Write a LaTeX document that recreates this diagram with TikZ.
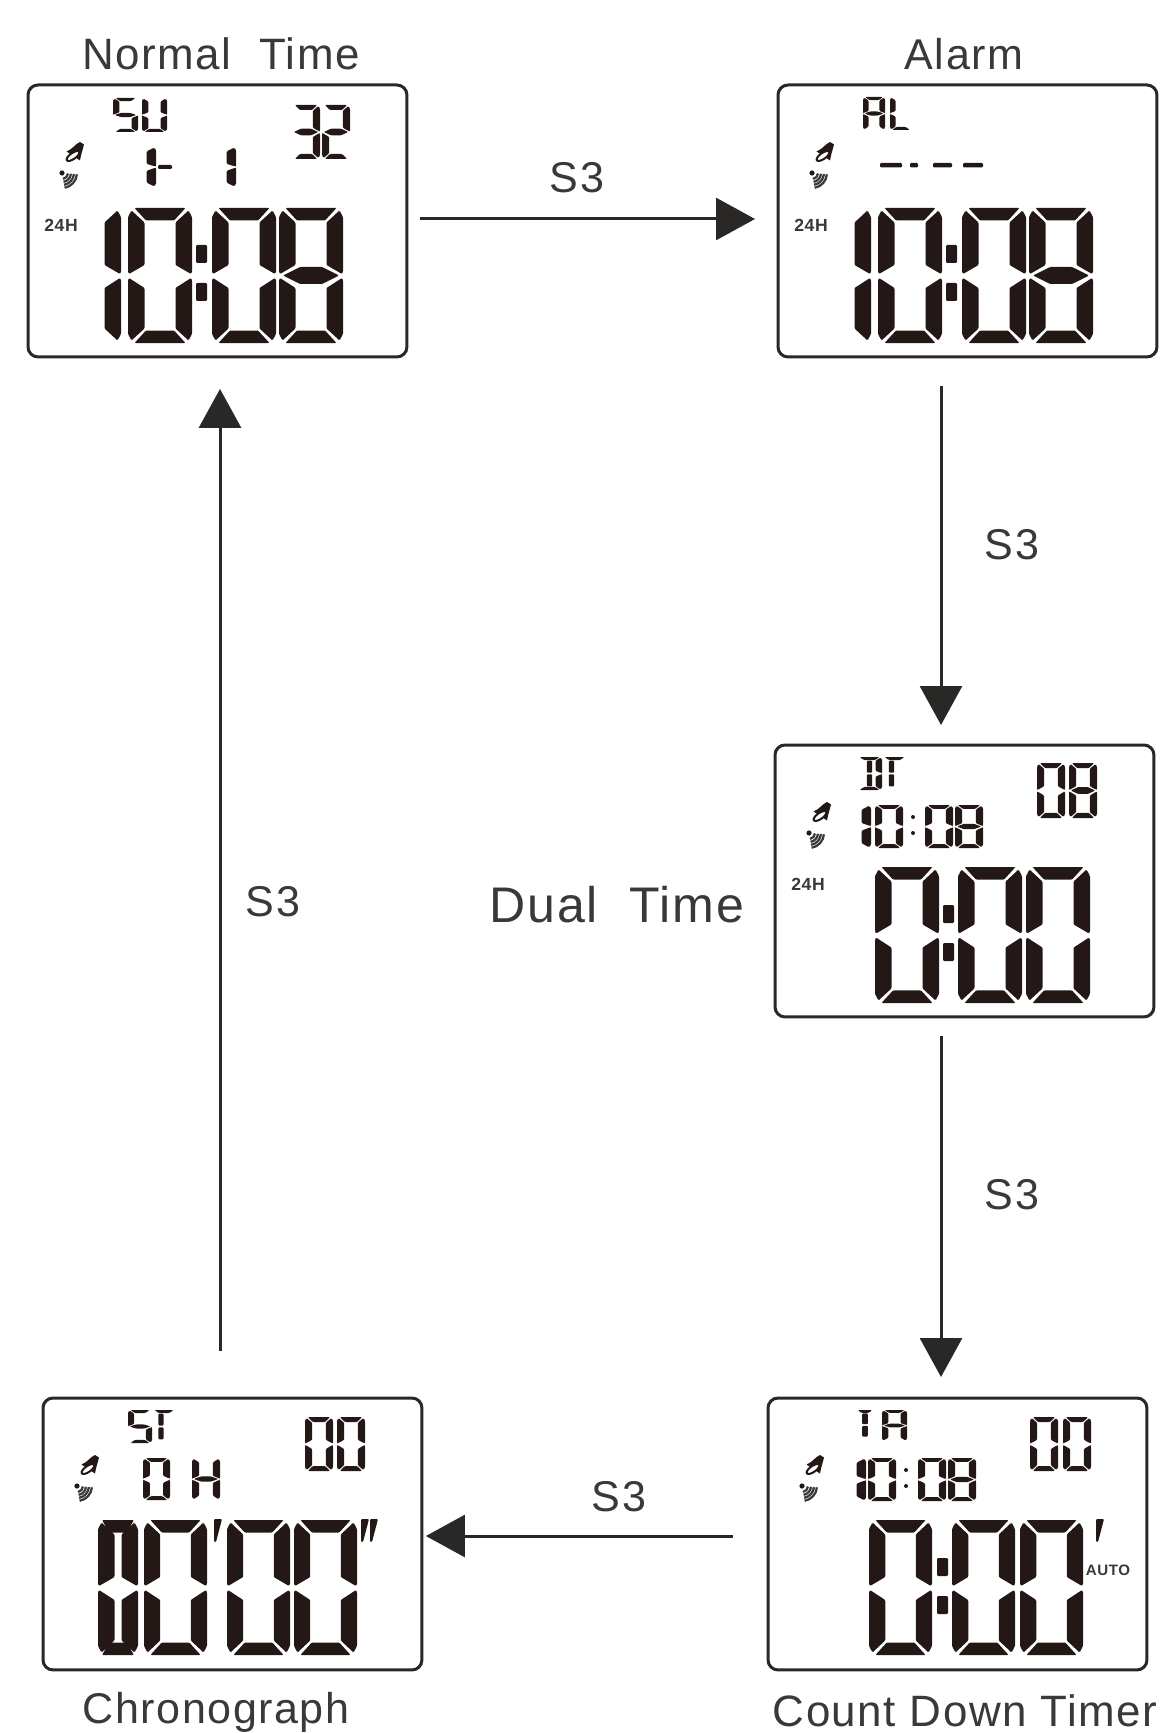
\documentclass[tikz,border=0pt]{standalone}
\usepackage{fontspec}
\setmainfont{Liberation Sans}[LetterSpace=3.5]
\usetikzlibrary{arrows.meta}

\definecolor{lcdink}{HTML}{231815}
\definecolor{labelink}{HTML}{3A3838}
\definecolor{arrowink}{HTML}{2A2727}

\tikzset{
	lcdframe/.style={draw=arrowink,line width=.06cm,rounded corners=.2cm,minimum width=7.58cm,minimum height=5.44cm,inner sep=0,outer sep=0,anchor=north west},
	lcdseg/.style={fill=lcdink,rounded corners=.6pt},
	modearrow/.style={draw=arrowink,line width=.06cm,-{Triangle[width=.84cm,length=.78cm]}},
	modelabel/.style={text=labelink,font=\fontsize{24.5}{28}\selectfont,inner sep=0},
	widelabel/.style={text=labelink,font=\fontsize{25}{28}\selectfont,inner sep=0},
	keylabel/.style={text=labelink,font=\fontsize{24.5}{28}\selectfont,inner sep=0},
	flaglabel/.style={text=labelink,font=\fontsize{10}{12}\selectfont\bfseries,inner sep=0}
}

\def\sega{(6.5,0) -- (57.5,0) -- (46,12.5) -- (18,12.5) -- cycle}
\def\segb{(64,9) -- (60.5,2.5) -- (47.5,14.5) -- (47.5,57) -- (63,66) -- (64,64) -- cycle}
\def\segc{(64,72) -- (63,70) -- (47.5,80) -- (47.5,120.5) -- (60.5,132.5) -- (64,126) -- cycle}
\def\segd{(6.5,135) -- (18,122.5) -- (46,122.5) -- (57.5,135) -- cycle}
\def\sege{(0,72) -- (1,70) -- (16.5,80) -- (16.5,120.5) -- (3.5,132.5) -- (0,126) -- cycle}
\def\segf{(0,9) -- (3.5,2.5) -- (16.5,14.5) -- (16.5,57) -- (1,66) -- (0,64) -- cycle}
\def\segg{(4,67.5) -- (21,59) -- (43,59) -- (60,67.5) -- (43,76) -- (21,76) -- cycle}
\def\segh{(25,15) -- (39,15) -- (39,64) -- (25,64) -- cycle}
\def\segi{(25,71) -- (39,71) -- (39,120) -- (25,120) -- cycle}

\newcommand{\lcddigit}[5]{
	\begin{scope}[shift={(#1,#2)},xscale=#3/64,yscale=#4/135]
	\foreach \s in {#5} {
		\expandafter\let\expandafter\segpath\csname seg\s\endcsname
		\fill[lcdseg] \segpath;
	}
	\end{scope}
}
\newcommand{\lcdzero}[4]{\lcddigit{#1}{#2}{#3}{#4}{a,b,c,d,e,f}}
\newcommand{\lcdeight}[4]{\lcddigit{#1}{#2}{#3}{#4}{a,b,c,d,e,f,g}}
\newcommand{\lcdone}[3]{\lcddigit{#1}{#2}{36}{#3}{b,c}}
\newcommand{\lcdcolon}[1]{
	\fill[lcdseg] (#1,160) rectangle (#1+11,178);
	\fill[lcdseg] (#1,198) rectangle (#1+11,216);
}
\newcommand{\lcdprime}[1]{\fill[lcdseg] (#1,121) -- (#1+8,121) -- (#1+2,144) -- (#1,144) -- cycle;}
\newcommand{\lcdsmalltime}[1]{
	\lcdone{#1}{60}{43}
	\lcdzero{100}{60}{28}{43}
	\foreach \y in {72,88}
		\fill[lcdink] (138,\y) circle (2);
	\lcdzero{150}{60}{28}{43}
	\lcdeight{180}{60}{28}{43}
}
\newcommand{\lcdicons}{
	\fill[lcdink] (38.5,66.5) .. controls (45,64) and (47,59) .. (52,57) -- (56,59.5) .. controls (55,64) and (53,69) .. (52,75.5) -- cycle;
	\draw[lcdink,line width=.04cm,fill=white,rotate around={35:(45,71)}] (45,71) ellipse [x radius=7.5,y radius=3];
	\fill[lcdink] (34,88) circle (2.6);
	\foreach \r in {6,9,12,15}
		\draw[labelink,line width=.045cm] (34,88) ++(5:\r) arc [start angle=5,end angle=80,radius=\r];
}

\begin{document}
\begin{tikzpicture}[x=.02cm,y=-.02cm]
\useasboundingbox (0,0) rectangle (1161,1733);

\node[lcdframe] (normal) at (28,85) {};
\node[lcdframe] (alarm) at (778,85) {};
\node[lcdframe] (dual) at (775,745) {};
\node[lcdframe] (chrono) at (43,1398) {};
\node[lcdframe] (count) at (768,1398) {};

\node[widelabel] (normaltitle) at (221,54) {Normal\ \ Time};
\node[modelabel] (alarmtitle) at (964,54) {Alarm};
\node[modelabel,font=\fontsize{28.5}{32}\selectfont] (dualtitle) at (617,905) {Dual\ \ Time};
\node[modelabel] (chronotitle) at (216,1712) {Chronograph};
\node[widelabel] (counttitle) at (965,1711) {Count Down Timer};

\begin{scope}[shift={(normal.north west)}]
\lcddigit{85}{13}{25}{34}{a,f,g,c,d}
\lcddigit{114}{13}{25}{34}{f,e,d,c,b}
\lcddigit{264}{20}{28}{54}{a,b,g,c,d}
\lcddigit{294}{20}{28}{54}{a,b,g,e,d}
\lcdone{92}{62}{40}
\fill[lcdseg] (130,80) rectangle (144,84);
\lcdone{172}{62}{40}
\lcdicons
\node[flaglabel] (flagnormal) at (33,140) {24H};
\lcddigit{29}{123}{64}{135}{b,c}
\lcdzero{100}{123}{64}{135}
\lcdcolon{168}
\lcdzero{184}{123}{64}{135}
\lcdeight{251}{123}{64}{135}
\end{scope}

\begin{scope}[shift={(alarm.north west)}]
\lcddigit{85}{12}{22}{33}{a,b,c,e,f,g}
\lcddigit{112}{12}{22}{33}{f,e,d}
\foreach \a/\b in {102/124,132/140,155/174,185/205}
	\fill[lcdseg] (\a,78) rectangle (\b,82.5);
\lcdicons
\node[flaglabel] (flagalarm) at (33,140) {24H};
\lcddigit{29}{123}{64}{135}{b,c}
\lcdzero{100}{123}{64}{135}
\lcdcolon{168}
\lcdzero{184}{123}{64}{135}
\lcdeight{251}{123}{64}{135}
\end{scope}

\begin{scope}[shift={(dual.north west)}]
\lcddigit{82}{12}{25}{33}{a,b,c,d,h,i}
\lcddigit{107}{12}{25}{33}{a}
\lcddigit{104}{12}{25}{33}{h,i}
\lcddigit{262}{18}{28}{55}{a,b,c,d,e,f}
\lcdeight{294}{18}{28}{55}
\lcdsmalltime{60}
\lcdicons
\node[flaglabel] (flagdual) at (33,139) {24H};
\lcdzero{100}{122}{64}{136}
\lcdcolon{168}
\lcdzero{183}{122}{64}{136}
\lcdzero{251}{122}{64}{136}
\end{scope}

\begin{scope}[shift={(chrono.north west)}]
\lcddigit{85}{12}{24}{33}{a,f,g,c,d}
\lcddigit{109}{12}{24}{33}{a}
\lcddigit{106}{12}{24}{33}{h,i}
\foreach \x in {262,294} {
	\lcdzero{\x}{19}{28}{54}
}
\lcdzero{100}{60}{27}{42}
\lcddigit{149}{60}{28}{42}{f,e,b,c,g}
\lcdicons
\lcddigit{55}{122}{64}{135}{e,f}
\lcddigit{31}{122}{64}{135}{b,c}
\lcddigit{55}{122}{40}{135}{a,d}
\lcdzero{101}{122}{63}{135}
\lcdprime{171}
\lcdzero{184}{122}{63}{135}
\lcdzero{251}{122}{63}{135}
\lcdprime{318}
\lcdprime{327}
\end{scope}

\begin{scope}[shift={(count.north west)}]
\lcddigit{88}{12}{18}{30}{a}
\lcddigit{84}{12}{26}{30}{h,i}
\lcddigit{114}{12}{25}{31}{a,b,c,e,f,g}
\foreach \x in {262,295} {
	\lcdzero{\x}{19}{28}{54}
}
\lcdsmalltime{62}
\lcdicons
\lcdzero{101}{122}{63}{135}
\lcdcolon{169}
\lcdzero{184}{122}{63}{135}
\lcdzero{252}{122}{63}{135}
\lcdprime{328}
\node[flaglabel,font=\fontsize{8.6}{10}\selectfont\bfseries] (flagauto) at (340,172) {AUTO};
\end{scope}

\coordinate (topline) at (0,219);
\coordinate (rightline) at (941,0);
\coordinate (bottomline) at (0,1536);
\coordinate (backline) at (220,0);

\draw[modearrow,shorten <=.26cm,shorten >=.46cm] (normal.east |- topline) -- (alarm.west |- topline);
\draw[modearrow,shorten <=.58cm,shorten >=.4cm] (alarm.south -| rightline) -- (dual.north -| rightline);
\draw[modearrow,shorten <=.38cm,shorten >=.42cm] (dual.south -| rightline) -- (count.north -| rightline);
\draw[modearrow,shorten <=.7cm,shorten >=.08cm] (count.west |- bottomline) -- (chrono.east |- bottomline);
\draw[modearrow,shorten <=.94cm,shorten >=.64cm] (chrono.north -| backline) -- (normal.south -| backline);

\node[keylabel] (keytop) at (577,178) {S3};
\node[keylabel] (keyalarm) at (1012,545) {S3};
\node[keylabel] (keydual) at (1012,1195) {S3};
\node[keylabel] (keycount) at (619,1497) {S3};
\node[keylabel] (keyback) at (273,902) {S3};
\end{tikzpicture}
\end{document}
